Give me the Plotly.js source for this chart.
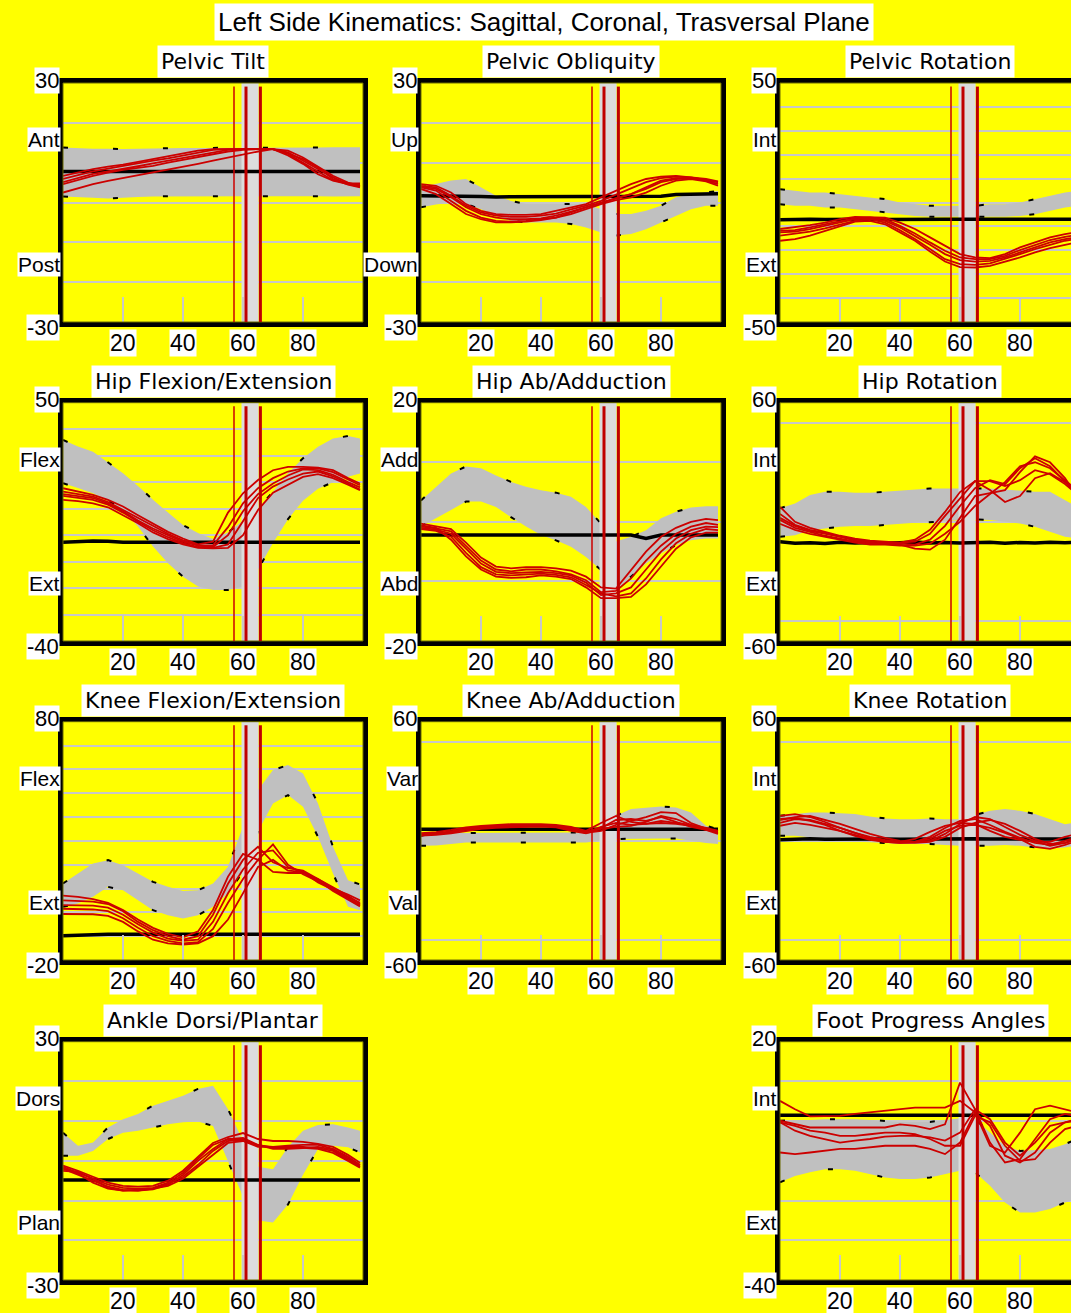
<!DOCTYPE html>
<html><head><meta charset="utf-8">
<script src="https://cdn.plot.ly/plotly-3.0.1.min.js"></script>
<style>html,body{margin:0;padding:0;overflow:hidden;background:#ffff00;}</style>
</head><body><div id="chart"></div>
<script>
// ---------- shared x (percent of gait cycle) ----------
const pct = [0,5,10,15,20,25,30,35,40,45,50,55,60,65,70,75,80,85,90,95,99];
const tickVals = [20,40,60,80];
const eventThin = 57;
const eventThick = [61, 65.8];
const eventBand = [59.5, 65.2];

// ---------- panel meta ----------
const panelTitles = ["Pelvic Tilt","Pelvic Obliquity","Pelvic Rotation","Hip Flexion/Extension","Hip Ab/Adduction","Hip Rotation","Knee Flexion/Extension","Knee Ab/Adduction","Knee Rotation","Ankle Dorsi/Plantar","Foot Progress Angles"];
const yMax = [30,30,50,50,20,60,80,60,60,30,20];
const yMin = [-30,-30,-50,-40,-20,-60,-20,-60,-60,-30,-40];
const upperWords = ["Ant","Up","Int","Flex","Add","Int","Flex","Var","Int","Dors","Int"];
const lowerWords = ["Post","Down","Ext","Ext","Abd","Ext","Ext","Val","Ext","Plan","Ext"];
const gridVals = [
  [-20,-10,0,10,20],[-20,-10,0,10,20],[-40,-30,-20,-10,0,10,20,30,40],
  [-30,-20,-10,0,10,20,30,40],[-10,0,10],[-50,0,50],
  [-10,0,10,20,30,40,50,60,70],[-50,0,50],[-50,0,50],
  [-20,-10,0,10,20],[-30,-20,-10,0,10]
];

// ---------- Pelvic Tilt ----------
const ptUpper = [13.8,13.6,13.5,13.5,13.4,13.5,13.6,13.6,13.7,13.7,13.7,13.8,13.8,13.8,13.7,13.7,13.8,13.8,13.9,13.9,13.9];
const ptLower = [1.5,1.4,1.2,1.0,1.2,1.4,1.5,1.6,1.6,1.5,1.5,1.5,1.6,1.6,1.6,1.5,1.6,1.6,1.5,1.5,1.6];
const ptRef = [7.8,7.8,7.8,7.9,7.8,7.8,7.8,7.7,7.8,7.8,7.8,7.8,7.8,7.8,7.8,7.8,7.8,7.8,7.8,7.8,7.8];
const ptTrials = [
  [6.7,7.6,8.4,9.0,9.5,10.2,10.9,11.6,12.2,13.0,13.4,13.4,13.4,13.4,13.4,11.8,9.7,7.1,5.5,4.6,4.5],
  [5.9,6.9,7.8,8.5,9.2,9.9,10.5,11.1,11.8,12.6,13.2,13.4,13.4,13.4,13.4,12.2,10.1,7.8,5.6,4.8,4.8],
  [5.1,6.1,7.2,7.8,8.4,9.1,9.8,10.5,11.2,11.9,12.6,13.2,13.4,13.4,13.4,12.6,10.5,8.4,6.3,4.6,4.0],
  [4.6,5.6,6.7,7.5,8.2,8.7,9.2,10.0,10.7,11.4,12.2,12.8,13.2,13.4,13.4,12.3,10.9,8.8,5.9,4.5,3.8],
  [2.5,3.6,4.6,5.4,6.1,6.8,7.6,8.3,9.0,9.7,10.5,11.3,12.0,12.8,13.4,13.0,11.3,9.0,6.7,5.0,4.2]
];

// ---------- Pelvic Obliquity ----------
const poUpper = [3.8,4.6,5.5,5.9,3.8,1.7,0.4,-0.4,-0.4,-0.4,-0.4,-0.4,-1.7,-2.9,-2.9,-2.1,-0.8,1.3,2.1,2.5,2.9];
const poLower = [-1.2,-0.5,0.0,-0.4,-1.7,-3.3,-4.6,-5.0,-5.0,-5.0,-5.4,-6.3,-7.5,-8.3,-7.9,-6.7,-5.0,-3.3,-1.7,-0.8,-0.8];
const poRef = [1.7,1.7,1.7,1.6,1.5,1.4,1.4,1.4,1.4,1.4,1.4,1.4,1.4,1.4,1.5,1.5,1.6,2.0,2.1,2.1,2.2];
const poTrials = [
  [4.6,4.2,2.5,-0.4,-2.1,-2.9,-3.1,-3.1,-2.9,-2.1,-1.2,-0.4,1.3,3.0,4.6,5.9,6.5,6.7,6.3,5.9,5.3],
  [4.2,3.8,1.7,-0.8,-2.5,-3.3,-3.6,-3.6,-3.3,-2.8,-1.7,-0.8,0.4,1.9,3.4,5.1,6.1,6.5,6.3,5.6,5.1],
  [4.0,3.4,1.3,-1.2,-2.9,-3.8,-4.2,-4.2,-4.0,-3.3,-2.3,-1.2,-0.1,0.9,2.1,3.8,5.5,6.1,6.1,5.5,4.6],
  [3.8,3.0,0.4,-2.1,-3.8,-4.6,-4.8,-4.6,-4.2,-3.8,-2.9,-1.7,-0.4,0.6,1.3,2.5,4.2,5.5,5.9,5.3,4.2],
  [3.4,2.1,-0.4,-2.9,-4.2,-5.0,-5.0,-4.8,-4.4,-3.8,-2.5,-1.2,0.0,1.1,2.1,3.4,5.1,5.9,6.1,5.6,5.1]
];

// ---------- Pelvic Rotation ----------
const prUpper = [5.6,4.9,4.2,4.2,3.5,2.8,2.1,1.4,0.0,-0.7,-1.4,-1.4,-1.4,-1.4,-0.7,-0.7,0.0,1.4,2.8,4.2,4.9];
const prLower = [-0.7,-1.4,-1.4,-2.1,-2.1,-2.8,-3.5,-4.2,-4.9,-5.6,-6.0,-6.0,-6.0,-6.0,-6.0,-6.0,-5.6,-4.9,-3.5,-2.1,-1.4];
const prRef = [-7.2,-7.0,-7.0,-7.1,-7.0,-7.0,-7.0,-7.1,-7.0,-7.0,-7.0,-7.0,-7.0,-7.1,-7.0,-7.0,-7.0,-7.0,-7.0,-7.0,-7.0];
const prTrials = [
  [-11.1,-10.4,-9.5,-8.4,-7.0,-6.0,-6.0,-6.3,-8.4,-11.1,-14.6,-18.1,-21.6,-23.0,-23.3,-21.6,-18.8,-16.7,-14.6,-13.2,-12.5],
  [-11.9,-11.6,-10.4,-9.1,-7.7,-6.5,-6.2,-7.0,-9.8,-13.0,-16.7,-20.2,-23.0,-23.7,-23.7,-22.3,-19.9,-17.7,-15.7,-14.4,-13.5],
  [-12.5,-12.2,-11.1,-9.8,-8.4,-7.0,-6.6,-7.7,-10.4,-13.9,-17.7,-21.6,-24.1,-24.7,-24.4,-23.0,-20.9,-18.8,-16.7,-15.3,-14.6],
  [-13.9,-13.2,-12.2,-10.8,-9.1,-7.7,-7.0,-8.4,-11.6,-15.3,-19.5,-23.7,-25.8,-26.1,-25.5,-23.7,-21.6,-19.5,-17.7,-16.0,-15.3],
  [-16.0,-15.3,-13.9,-11.9,-9.8,-8.0,-7.7,-9.1,-12.5,-16.0,-20.5,-24.7,-27.0,-27.2,-26.5,-24.9,-23.0,-20.9,-19.1,-17.7,-16.7]
];

// ---------- Hip Flexion/Extension ----------
const hfUpper = [35.9,33.5,31.5,27.5,23.4,18.5,13.3,8.5,3.8,0.8,-1.5,1.0,5.5,10.0,16.4,23.4,29.0,33.4,36.5,37.4,36.5];
const hfLower = [19.6,17.8,15.8,13.0,9.5,3.2,-4.3,-10.6,-15.7,-19.4,-20.7,-20.7,-19.4,-13.0,-3.0,6.0,13.0,17.5,20.0,22.0,23.3];
const hfRef = [-2.7,-2.3,-2.2,-2.3,-2.7,-2.7,-2.7,-2.7,-2.7,-2.7,-2.7,-2.7,-2.7,-2.7,-2.7,-2.7,-2.7,-2.7,-2.7,-2.7,-2.7];
const hfTrials = [
  [17.7,16.4,15.2,13.3,10.8,7.5,4.4,1.2,-1.3,-3.5,-2.5,8.5,15.8,20.8,24.5,25.8,25.8,25.5,24.5,21.5,19.5],
  [16.4,15.5,14.5,12.5,9.5,6.5,3.2,0.5,-2.0,-3.8,-3.9,3.0,12.0,17.7,21.5,24.0,25.2,25.2,23.8,21.0,18.8],
  [15.5,14.8,14.0,12.0,9.0,5.5,2.5,0.0,-2.5,-4.0,-4.5,0.0,9.0,15.5,19.5,22.5,24.8,24.5,22.8,20.0,18.0],
  [14.8,14.0,13.3,11.5,8.5,5.0,1.8,-0.8,-3.0,-4.5,-4.8,-3.5,5.0,14.0,18.3,21.0,23.2,24.0,22.2,19.5,17.2],
  [13.3,12.8,12.0,10.5,7.5,4.5,1.0,-1.5,-3.5,-4.8,-5.0,-4.8,0.0,9.5,16.0,19.0,22.0,23.0,21.5,19.0,17.0]
];

// ---------- Hip Ab/Adduction ----------
const haUpper = [3.6,5.9,8.1,9.3,9.0,7.8,6.7,5.9,5.3,4.9,4.2,2.5,-0.3,-3.3,-2.5,-1.4,0.6,1.7,2.4,2.6,2.6];
const haLower = [-0.8,0.6,2.0,3.4,3.4,2.5,0.8,-0.8,-2.2,-3.1,-4.2,-5.9,-8.1,-11.5,-9.2,-7.0,-5.3,-3.9,-3.1,-2.8,-2.8];
const haRef = [-2.2,-2.2,-2.2,-2.2,-2.2,-2.2,-2.2,-2.2,-2.2,-2.2,-2.2,-2.2,-2.2,-2.2,-2.2,-2.8,-2.2,-2.2,-2.2,-2.2,-2.2];
const haTrials = [
  [-0.3,-0.8,-1.2,-3.5,-6.0,-7.5,-7.8,-7.6,-7.6,-7.8,-8.2,-9.2,-11.0,-11.2,-8.0,-5.0,-2.5,-1.0,0.0,0.5,0.3],
  [-0.8,-1.1,-1.6,-4.0,-6.5,-8.0,-8.3,-8.0,-8.0,-8.3,-8.8,-9.8,-11.8,-11.6,-9.5,-6.5,-4.0,-2.0,-0.8,-0.2,-0.5],
  [-1.0,-1.3,-2.0,-4.5,-7.0,-8.4,-8.6,-8.5,-8.4,-8.6,-9.0,-10.2,-12.3,-12.0,-11.0,-8.0,-5.0,-2.8,-1.4,-0.8,-0.9],
  [-1.2,-1.5,-2.5,-5.2,-7.6,-8.8,-9.0,-8.8,-8.7,-8.9,-9.3,-10.6,-12.0,-12.5,-12.0,-9.5,-6.3,-3.6,-2.0,-1.2,-1.4],
  [-0.6,-1.0,-3.0,-5.8,-8.0,-9.2,-9.4,-9.3,-9.0,-9.2,-9.6,-11.0,-12.8,-12.8,-12.6,-10.5,-7.5,-4.5,-2.6,-1.8,-1.8]
];

// ---------- Hip Rotation ----------
const hrUpper = [6.8,9.3,13.5,15.1,15.1,14.6,14.6,15.1,15.6,16.3,16.8,16.8,16.8,16.8,16.8,16.3,15.6,15.1,15.1,11.0,7.6];
const hrLower = [-7.5,-6.7,-4.2,-3.3,-2.5,-2.1,-2.1,-1.6,-1.1,-0.5,0.0,0.5,0.9,1.2,0.9,0.0,-0.8,-2.5,-5.0,-7.5,-8.3];
const hrRef = [-10.0,-10.8,-10.5,-10.9,-10.3,-10.6,-10.4,-10.8,-10.5,-10.2,-10.6,-10.4,-10.7,-10.5,-10.3,-10.8,-10.4,-10.6,-10.3,-10.5,-10.4];
const hrTrials = [
  [2.0,-2.0,-4.5,-6.0,-7.5,-9.0,-10.0,-10.5,-10.5,-9.0,-4.0,5.0,15.0,20.5,20.5,18.0,21.0,26.0,24.0,19.0,14.0],
  [7.6,0.0,-3.0,-5.0,-7.0,-8.5,-9.5,-10.0,-10.5,-10.0,-6.0,3.0,12.0,20.5,16.0,10.0,13.0,22.0,24.5,20.0,15.0],
  [4.0,-1.5,-4.0,-5.5,-7.5,-9.5,-10.5,-11.0,-11.0,-11.5,-9.0,-2.0,8.0,17.0,21.0,19.0,27.0,32.0,28.0,20.0,14.0],
  [1.0,-3.0,-5.0,-7.0,-8.5,-10.0,-11.0,-11.0,-11.5,-13.5,-14.0,-9.0,2.0,13.0,14.5,16.0,25.0,33.0,30.0,22.0,13.0],
  [-1.0,-4.0,-6.0,-7.5,-9.0,-10.5,-11.5,-11.5,-12.0,-12.0,-11.0,-6.0,0.0,8.0,14.0,20.0,28.0,30.0,27.0,21.0,16.0]
];

// ---------- Knee Flexion/Extension ----------
const kfUpper = [12.1,16.3,20.5,21.9,19.8,16.3,12.8,10.7,9.0,9.3,12.1,19.1,35.9,51.3,59.7,61.8,58.3,45.7,27.5,13.5,11.7];
const kfLower = [2.3,3.7,6.5,10.7,9.3,5.1,0.9,-1.2,-2.6,-1.2,2.3,8.0,17.0,34.0,45.7,49.2,44.3,31.7,16.3,2.3,0.9];
const kfRef = [-9.8,-9.5,-9.3,-9.2,-9.2,-9.2,-9.2,-9.2,-9.2,-9.0,-9.2,-9.2,-9.0,-9.2,-9.2,-9.2,-9.0,-9.2,-9.2,-9.2,-9.2];
const kfTrials = [
  [7.0,6.5,5.5,4.0,1.0,-3.0,-6.5,-9.0,-10.5,-8.0,1.0,15.0,24.5,22.0,17.0,16.5,16.5,14.0,10.5,7.0,3.5],
  [5.0,4.9,4.5,3.5,0.5,-4.0,-7.5,-10.0,-11.5,-10.0,-1.0,12.0,22.0,27.5,21.0,18.5,17.5,14.0,10.0,6.5,4.0],
  [3.0,3.0,2.8,2.0,-1.0,-5.0,-8.5,-11.0,-12.0,-11.5,-4.0,8.0,18.0,25.0,26.0,19.0,17.0,12.5,9.5,6.0,3.0],
  [1.5,1.4,1.2,0.5,-2.5,-6.5,-10.0,-12.0,-13.0,-12.5,-7.0,4.0,14.0,22.0,28.5,20.0,16.0,13.0,10.0,7.5,5.0],
  [-0.7,-0.7,-0.8,-1.5,-4.0,-8.0,-11.5,-13.0,-13.5,-13.0,-10.0,-3.0,8.0,19.0,22.0,17.5,17.0,13.5,9.0,5.5,2.5]
];

// ---------- Knee Ab/Adduction ----------
const kaUpper = [2.6,3.9,3.9,3.9,3.9,3.9,3.9,3.9,3.9,3.9,3.9,4.2,7.6,12.6,16.0,16.8,17.3,16.8,14.3,7.6,5.9];
const kaLower = [-2.5,-2.3,-1.6,-0.8,-0.8,-0.8,-0.8,-0.8,-0.8,-0.8,-0.8,-0.8,0.0,0.9,1.2,1.2,1.2,1.2,0.0,-1.1,-1.6];
const kaRef = [5.9,5.9,5.9,5.9,5.9,5.9,5.9,5.9,5.9,5.9,5.9,5.9,5.9,5.9,5.9,5.9,5.9,5.9,5.9,5.9,5.9];
const kaTrials = [
  [3.9,4.4,5.5,6.8,7.5,8.0,8.4,8.4,8.4,8.0,7.0,5.0,9.0,12.5,9.5,8.5,9.0,8.5,7.5,6.0,5.0],
  [3.4,3.9,4.8,6.2,7.0,7.5,7.8,8.0,7.8,7.5,6.0,4.5,6.5,10.5,11.0,10.0,12.0,9.5,7.0,5.5,4.5],
  [2.8,3.4,4.2,5.6,6.5,7.0,7.2,7.4,7.5,7.2,5.5,4.0,5.0,8.0,10.0,12.0,14.5,14.0,9.0,6.0,4.0],
  [2.6,3.0,3.8,5.0,6.0,6.6,6.8,7.0,7.2,6.8,5.0,3.8,6.0,7.0,7.5,9.5,12.5,11.0,8.0,6.5,5.0],
  [3.0,3.5,4.5,6.0,7.0,7.4,7.6,7.7,7.8,7.5,6.5,4.2,7.0,9.0,8.0,8.5,10.0,9.0,8.0,5.5,3.5]
];

// ---------- Knee Rotation ----------
const krUpper = [12.6,13.5,14.3,14.3,14.0,13.5,12.3,11.3,10.9,10.9,11.3,10.9,10.9,13.0,15.1,16.0,15.1,13.5,10.9,8.4,9.3];
const krLower = [2.6,2.6,1.7,0.9,0.0,-0.5,-0.8,-1.1,-1.6,-1.6,-1.6,-2.1,-2.5,-2.5,-2.5,-2.1,-2.5,-3.3,-3.8,-3.3,-2.5];
const krRef = [0.6,0.9,1.1,0.8,0.9,0.9,1.0,0.9,0.8,0.9,1.0,0.9,0.9,1.1,0.9,0.8,0.9,1.0,0.9,0.9,0.9];
const krTrials = [
  [12.6,13.5,12.0,9.5,6.5,4.0,2.0,0.5,-0.5,1.0,4.5,7.5,9.0,8.5,5.0,2.0,0.5,-0.5,-0.5,2.0,3.5],
  [10.5,12.0,12.5,10.5,8.5,6.0,3.5,1.5,0.0,-0.5,2.0,6.5,10.0,11.0,8.0,4.5,1.5,-1.0,-2.0,0.0,2.0],
  [9.0,11.0,10.5,8.5,6.5,4.0,1.5,0.0,-0.5,-0.5,0.0,3.5,8.5,12.0,11.0,7.0,3.0,0.0,-2.5,-1.0,1.5],
  [7.6,9.0,8.0,6.5,5.0,3.0,1.0,-0.5,-1.0,-1.0,-0.5,2.0,6.5,9.0,10.5,8.5,5.0,1.0,-1.5,-1.0,0.5],
  [11.0,11.5,10.0,8.0,5.0,2.5,0.5,-0.5,-1.0,-0.5,1.0,5.0,7.5,8.0,6.5,4.0,1.0,-3.0,-4.0,-2.0,0.0]
];

// ---------- Ankle Dorsi/Plantar ----------
const adUpper = [7.1,3.8,4.6,8.4,10.5,11.8,13.9,15.1,16.4,18.1,18.9,13.0,5.0,-1.5,-2.1,3.5,7.6,9.0,9.2,8.4,7.6];
const adLower = [1.3,1.3,2.5,5.5,7.1,7.6,8.4,9.2,9.7,9.9,8.8,0.0,-9.0,-15.0,-15.5,-11.0,-3.5,3.0,3.8,3.4,2.1];
const adRef = [-4.8,-4.8,-4.6,-4.8,-4.8,-4.8,-4.8,-4.8,-4.6,-4.8,-4.8,-4.8,-4.8,-4.8,-4.8,-4.8,-4.8,-4.8,-4.6,-4.8,-4.8];
const adTrials = [
  [-1.2,-2.5,-4.0,-5.5,-6.3,-6.5,-6.3,-5.0,-2.5,1.0,4.5,6.0,7.0,5.5,5.0,5.0,4.8,4.3,3.5,1.5,-0.5],
  [-1.5,-3.0,-4.5,-6.0,-6.8,-7.0,-6.8,-5.5,-3.0,0.5,4.0,5.5,5.0,3.5,3.5,3.8,4.0,4.0,3.0,1.0,-1.0],
  [-2.0,-3.5,-5.0,-6.5,-7.3,-7.5,-7.2,-6.0,-3.5,0.0,3.0,5.5,5.8,4.0,3.0,3.0,3.2,3.5,2.8,0.5,-1.2],
  [-2.5,-2.8,-4.5,-6.8,-7.5,-7.5,-7.0,-5.8,-4.0,-1.0,2.5,5.0,5.5,3.8,3.5,3.5,3.5,3.2,2.5,0.2,-1.5],
  [-1.8,-3.2,-5.5,-7.0,-7.5,-7.3,-7.0,-6.3,-4.5,-1.5,1.5,4.5,5.0,4.0,3.3,3.3,3.3,3.0,2.0,0.0,-1.7]
];

// ---------- Foot Progress Angles ----------
const fpUpper = [0.1,0.3,0.3,0.5,0.5,0.5,0.3,0.1,-0.2,-0.2,-0.2,0.3,0.7,0.5,-2.9,-6.2,-7.5,-7.2,-7.0,-5.8,-4.5];
const fpLower = [-15.4,-13.8,-12.9,-12.1,-12.1,-12.5,-13.3,-14.2,-14.6,-14.6,-14.2,-13.3,-12.5,-12.9,-16.3,-20.5,-23.0,-23.0,-22.1,-20.5,-19.6];
const fpRef = [1.5,1.5,1.5,1.5,1.5,1.5,1.5,1.5,1.5,1.5,1.5,1.5,1.5,1.5,1.5,1.5,1.5,1.5,1.5,1.5,1.5];
const fpTrials = [
  [5.1,3.0,1.2,1.2,1.3,1.8,2.2,2.6,3.0,3.4,3.4,3.4,5.1,2.2,-6.2,-7.9,-2.9,3.0,3.9,3.0,2.2],
  [0.1,-0.8,-1.6,-1.6,-1.6,-1.6,-1.6,-1.6,-0.8,-1.2,-2.0,-0.8,9.7,3.0,-5.4,-10.4,-9.6,-4.5,0.5,1.8,1.3],
  [-0.3,-2.4,-3.7,-4.5,-5.4,-4.9,-4.5,-3.9,-3.7,-3.7,-4.1,-4.9,-2.9,3.0,0.5,-5.4,-8.7,-5.4,-1.2,-0.3,0.5],
  [-7.9,-8.3,-7.9,-7.5,-7.0,-7.0,-6.6,-6.2,-6.2,-6.2,-7.0,-8.3,-5.4,2.2,-1.2,-8.7,-10.4,-7.9,-2.9,-0.3,0.1],
  [-0.3,-1.2,-2.4,-2.9,-3.7,-3.7,-3.3,-2.9,-2.9,-3.3,-4.5,-6.2,-6.2,1.3,-0.3,-6.2,-10.0,-9.6,-5.4,-2.0,-1.2]
];

const uppers = [ptUpper,poUpper,prUpper,hfUpper,haUpper,hrUpper,kfUpper,kaUpper,krUpper,adUpper,fpUpper];
const lowers = [ptLower,poLower,prLower,hfLower,haLower,hrLower,kfLower,kaLower,krLower,adLower,fpLower];
const refs = [ptRef,poRef,prRef,hfRef,haRef,hrRef,kfRef,kaRef,krRef,adRef,fpRef];
const trials = [ptTrials,poTrials,prTrials,hfTrials,haTrials,hrTrials,kfTrials,kaTrials,krTrials,adTrials,fpTrials];

// ---------- layout geometry (pixels) ----------
const W = 1090, H = 1313;
const colPx = [[63,363],[421,721],[780,1080]];
const rowPx = [[83,322],[402.7,641],[721.7,960],[1041.7,1280]];
const panelRow = [0,0,0,1,1,1,2,2,2,3,3];
const panelCol = [0,1,2,0,1,2,0,1,2,0,2];

const SANS = "Liberation Sans, Arial, sans-serif";
const traces = [], shapes = [], annotations = [];
const layout = {
  width: W, height: H, margin:{l:0,r:0,t:0,b:0},
  paper_bgcolor:'#ffff00', plot_bgcolor:'#ffff00', showlegend:false,
  shapes: shapes, annotations: annotations
};

annotations.push({
  text:"Left Side Kinematics: Sagittal, Coronal, Trasversal Plane",
  xref:'paper', yref:'paper', x:544/W, y:1-22/H, xanchor:'center', yanchor:'middle',
  showarrow:false, bgcolor:'#ffffff', borderpad:3,
  font:{family:SANS, size:26, color:'#000'}
});

panelTitles.forEach((title, i) => {
  const n = i + 1;
  const xa = n === 1 ? 'x' : 'x' + n;
  const ya = n === 1 ? 'y' : 'y' + n;
  const cp = colPx[panelCol[i]], rp = rowPx[panelRow[i]];
  const lo = yMin[i], hi = yMax[i];
  layout['xaxis' + (n === 1 ? '' : n)] = {
    domain:[cp[0]/W, cp[1]/W], anchor: ya, range:[0,100],
    showgrid:false, zeroline:false, showline:true, mirror:true, linecolor:'#000', linewidth:5,
    ticks:'inside', ticklen:25, tickwidth:2, tickcolor:'#c8c8c8', tickvals: tickVals, showticklabels:false,
    fixedrange:true
  };
  layout['yaxis' + (n === 1 ? '' : n)] = {
    domain:[1 - rp[1]/H, 1 - rp[0]/H], anchor: xa, range:[lo, hi],
    showgrid:true, gridcolor:'#c8c8c8', gridwidth:2, tickvals: gridVals[i], ticks:'',
    showticklabels:false, zeroline:false, showline:true, mirror:true, linecolor:'#000', linewidth:5,
    fixedrange:true
  };
  // olive inner frame line
  shapes.push({type:'rect', xref:'paper', yref:'paper', x0:cp[0]/W, x1:cp[1]/W, y0:1-rp[1]/H, y1:1-rp[0]/H,
    line:{color:'#6b6b00', width:1}, layer:'above'});

  const up = uppers[i], low = lowers[i];
  // normal band
  traces.push({x: pct.concat(pct.slice().reverse()), y: up.concat(low.slice().reverse()),
    xaxis:xa, yaxis:ya, mode:'lines', fill:'toself', fillcolor:'#c0c0c0', line:{width:0, color:'#c0c0c0'}, hoverinfo:'skip'});
  // dashed edges of normal band
  [up, low].forEach(edge => traces.push({x:pct, y:edge, xaxis:xa, yaxis:ya, mode:'lines',
    line:{color:'#000', width:2, dash:'5px,45px'}, hoverinfo:'skip'}));
  // event band (light gray)
  traces.push({x:[eventBand[0],eventBand[1],eventBand[1],eventBand[0],eventBand[0]], y:[lo,lo,hi,hi,lo],
    xaxis:xa, yaxis:ya, mode:'lines', fill:'toself', fillcolor:'#dcdcdc', line:{width:0, color:'#dcdcdc'}, hoverinfo:'skip'});
  // reference (black) line
  traces.push({x:pct, y:refs[i], xaxis:xa, yaxis:ya, mode:'lines', line:{color:'#000', width:3.5}, hoverinfo:'skip'});
  // trials (red)
  trials[i].forEach(tr => traces.push({x:pct, y:tr, xaxis:xa, yaxis:ya, mode:'lines',
    line:{color:'#cc0000', width:1.8}, hoverinfo:'skip'}));
  // event lines
  shapes.push({type:'line', xref:xa, yref:ya+' domain', x0:eventThin, x1:eventThin, y0:0, y1:0.985,
    line:{color:'#cc0000', width:1.5}, layer:'above'});
  eventThick.forEach(ev => shapes.push({type:'line', xref:xa, yref:ya+' domain', x0:ev, x1:ev, y0:0, y1:0.985,
    line:{color:'#c00000', width:3}, layer:'above'}));

  // panel title
  annotations.push({text:title, xref:xa+' domain', yref:ya+' domain', x:0.5, y:1, xanchor:'center', yanchor:'bottom',
    yshift:5, showarrow:false, bgcolor:'#ffffff', borderpad:3, font:{family:'DejaVu Sans', size:22, color:'#000'}});
  // y end labels
  annotations.push({text:String(hi), xref:xa+' domain', yref:ya+' domain', x:0, y:1, xanchor:'right', yanchor:'middle',
    xshift:-3, yshift:3, showarrow:false, bgcolor:'#ffffff', borderpad:0, font:{family:SANS, size:22, color:'#000'}});
  annotations.push({text:String(lo), xref:xa+' domain', yref:ya+' domain', x:0, y:0, xanchor:'right', yanchor:'middle',
    xshift:-3, yshift:-5, showarrow:false, bgcolor:'#ffffff', borderpad:0, font:{family:SANS, size:22, color:'#000'}});
  annotations.push({text:upperWords[i], xref:xa+' domain', yref:ya+' domain', x:0, y:0.763, xanchor:'right', yanchor:'middle',
    xshift:-2, showarrow:false, bgcolor:'#ffffff', borderpad:0, font:{family:SANS, size:21, color:'#000'}});
  annotations.push({text:lowerWords[i], xref:xa+' domain', yref:ya+' domain', x:0, y:0.24, xanchor:'right', yanchor:'middle',
    xshift:-2, showarrow:false, bgcolor:'#ffffff', borderpad:0, font:{family:SANS, size:21, color:'#000'}});
  // x tick labels
  tickVals.forEach(t => annotations.push({text:String(t), xref:xa, yref:ya+' domain', x:t, y:0, xanchor:'center', yanchor:'top',
    yshift:-7, showarrow:false, bgcolor:'#ffffff', borderpad:0, font:{family:SANS, size:23, color:'#000'}}));
});

Plotly.newPlot('chart', traces, layout, {staticPlot:true, displayModeBar:false});
</script>
</body></html>
